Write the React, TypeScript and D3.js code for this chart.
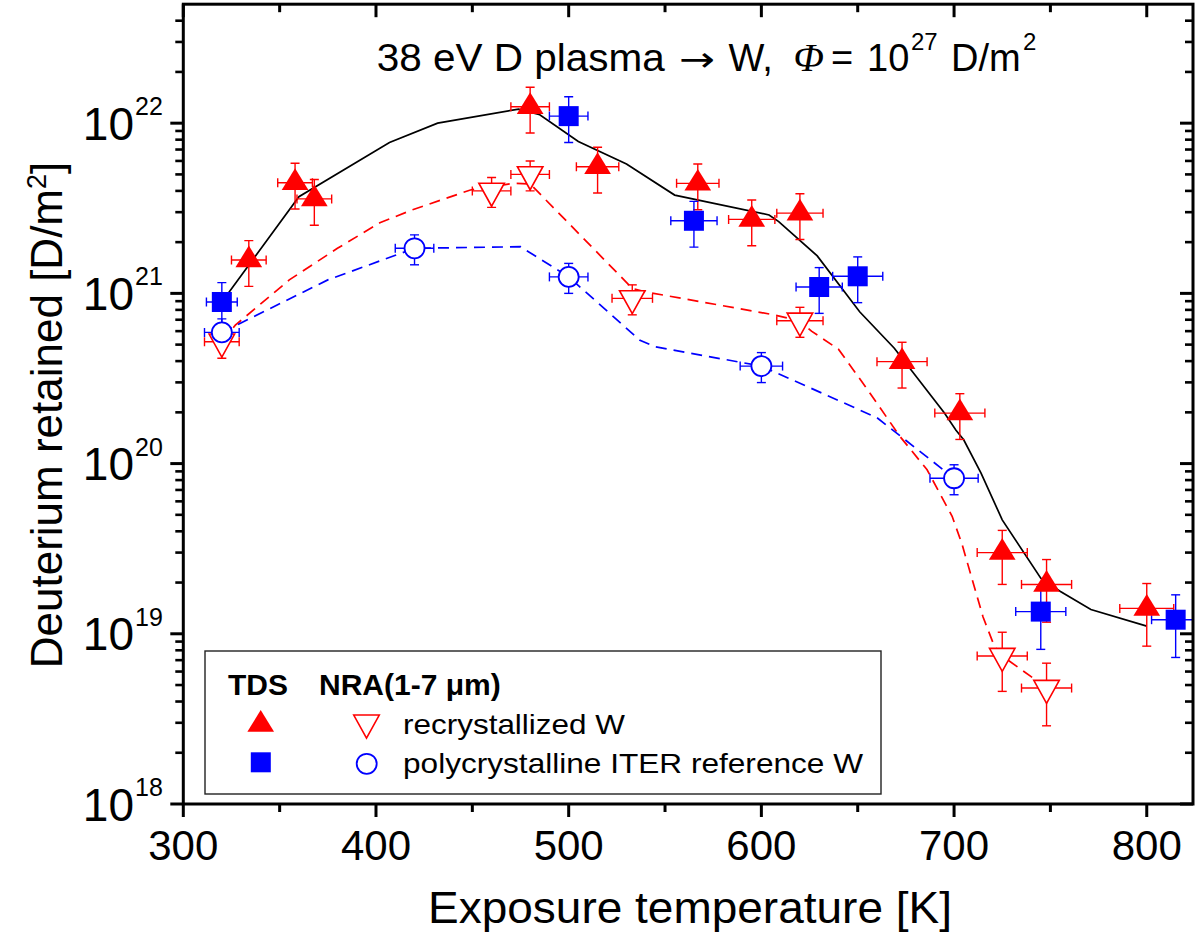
import React from 'react';
import * as d3 from 'd3';

const W = 1197;
const H = 935;
const FONT = "Arial, 'Liberation Sans', Helvetica, sans-serif";
const RED = '#ff0000';
const BLUE = '#0000ff';

// ---- TDS, recrystallized W (filled red triangles) ----
const tdsRecT = [334, 358, 368, 480, 515, 567, 595, 620, 673, 703, 725, 748, 800];
const tdsRecD = [1.57e21, 4.47e21, 3.59e21, 1.25e22, 5.55e21, 4.43e21, 2.72e21, 2.96e21, 3.97e20, 1.98e20, 3.0e19, 1.95e19, 1.41e19];
const tdsRecTErr = [9, 9, 9, 10, 11, 11, 12, 12, 13, 13, 13, 13, 14];
const tdsRecDErr = [0.3, 0.3, 0.3, 0.3, 0.3, 0.3, 0.3, 0.3, 0.3, 0.3, 0.35, 0.4, 0.4];

// ---- TDS, polycrystalline ITER reference W (filled blue squares) ----
const tdsPolyT = [320, 500, 565, 630, 650, 745, 815];
const tdsPolyD = [8.9e20, 1.1e22, 2.67e21, 1.09e21, 1.26e21, 1.35e19, 1.21e19];
const tdsPolyTErr = [8, 10, 12, 12, 13, 13, 12.5];
const tdsPolyDErr = [0.3, 0.3, 0.3, 0.3, 0.3, 0.4, 0.4];

// ---- NRA, recrystallized W (open red down triangles) ----
const nraRecT = [320, 460, 480, 533, 620, 725, 748];
const nraRecD = [5.2e20, 4.0e21, 5.0e21, 9.35e20, 6.9e20, 7.4e18, 4.8e18];
const nraRecTErr = [9, 10, 10, 10.5, 12, 13, 13];
const nraRecDErr = [0.2, 0.2, 0.2, 0.2, 0.2, 0.38, 0.4];

// ---- NRA, polycrystalline ITER reference W (open blue circles) ----
const nraPolyT = [320, 420, 500, 600, 700];
const nraPolyD = [5.9e20, 1.84e21, 1.25e21, 3.74e20, 8.2e19];
const nraPolyTErr = [9, 10, 10, 11, 12.5];
const nraPolyDErr = [0.2, 0.2, 0.2, 0.2, 0.2];

// ---- guide lines ----
const tdsFitT = [320, 360, 407, 432, 474, 485, 505, 530, 555, 604, 609, 629, 651, 669, 695, 701, 705, 714, 725, 745, 755, 771, 800];
const tdsFitD = [8.9e20, 3.7e21, 7.7e21, 1.0e22, 1.21e22, 1.12e22, 7.8e21, 5.75e21, 3.78e21, 2.89e21, 2.64e21, 1.66e21, 7.8e20, 4.76e20, 1.98e20, 1.57e20, 1.38e20, 8.8e19, 4.67e19, 2.12e19, 1.78e19, 1.39e19, 1.11e19];

const nraRecFitT = [320, 327, 355, 380, 402, 419, 449, 471, 480, 533, 540, 606, 620, 626, 640, 654, 672, 686, 699, 704, 715, 721, 725, 740, 748];
const nraRecFitD = [5.2e20, 6.5e20, 1.2e21, 1.84e21, 2.6e21, 3.1e21, 4.05e21, 4.43e21, 4.4e21, 1.07e21, 1.02e21, 7.5e20, 6.9e20, 6.0e20, 4.7e20, 2.83e20, 1.44e20, 9.2e19, 4.9e19, 3.4e19, 1.26e19, 8.4e18, 7.4e18, 5.6e18, 4.8e18];

const nraPolyFitT = [320, 375, 420, 475, 500, 537, 545, 600, 660, 700];
const nraPolyFitD = [5.9e20, 1.2e21, 1.84e21, 1.88e21, 1.25e21, 5.3e20, 4.85e20, 3.74e20, 1.86e20, 8.2e19];

// ---- ticks ----
const xTicksMajor = [300, 400, 500, 600, 700, 800];
const xTicksMinor = [350, 450, 550, 650, 750];
const yTickExps = [18, 19, 20, 21, 22];
const yMinorMantissas = [2, 3, 4, 5, 6, 7, 8, 9];

const TRI_W = 26.7;
const TRI_H = 21.7;
const SQ = 20;
const CIRC_R = 10;

function triUp(cx: number, cy: number) {
  return `M${cx},${cy - (2 * TRI_H) / 3}L${cx + TRI_W / 2},${cy + TRI_H / 3}L${cx - TRI_W / 2},${cy + TRI_H / 3}Z`;
}
function triDown(cx: number, cy: number) {
  const w = 25.5, h = 23;
  return `M${cx},${cy + (2 * h) / 3}L${cx + w / 2},${cy - h / 3}L${cx - w / 2},${cy - h / 3}Z`;
}

export default function App() {
  const x = d3.scaleLinear().domain([300, 824]).range([183.3, 1193]);
  const y = d3.scaleLog().domain([1e18, 5e22]).range([804, 4.2]);
  const [xL, xR] = x.range();
  const [yB, yT] = y.range();

  const yMinor: number[] = [];
  yTickExps.forEach((e) => {
    yMinorMantissas.forEach((m) => {
      const v = m * Math.pow(10, e);
      if (v < 5e22) yMinor.push(v);
    });
  });

  const mkPath = (ts: number[], ds: number[]) =>
    d3
      .line<number>()
      .x((t) => x(t))
      .y((_, i) => y(ds[i]))(ts) || '';

  const errBars = (
    ts: number[],
    ds: number[],
    te: number[],
    de: number[],
    color: string,
    key: string
  ) =>
    ts.map((t, i) => {
      const cx = x(t);
      const cy = y(ds[i]);
      const xl = x(t - te[i]);
      const xr = x(t + te[i]);
      const yt = y(ds[i] * (1 + de[i]));
      const yb = y(ds[i] * (1 - de[i]));
      const c = 4.5;
      return (
        <g key={key + i} stroke={color} strokeWidth={1.4} fill="none">
          <line x1={xl} y1={cy} x2={xr} y2={cy} />
          <line x1={xl} y1={cy - c} x2={xl} y2={cy + c} />
          <line x1={xr} y1={cy - c} x2={xr} y2={cy + c} />
          <line x1={cx} y1={yt} x2={cx} y2={yb} />
          <line x1={cx - c} y1={yt} x2={cx + c} y2={yt} />
          <line x1={cx - c} y1={yb} x2={cx + c} y2={yb} />
        </g>
      );
    });

  const tickW = 3;

  return (
    <svg
      width={W}
      height={H}
      viewBox={`0 0 ${W} ${H}`}
      style={{ position: 'absolute', left: 0, top: 0, background: '#fff' }}
      fontFamily={FONT}
    >
      <defs>
        <clipPath id="plotClip">
          <rect x={xL} y={yT} width={xR - xL} height={yB - yT} />
        </clipPath>
      </defs>
      <rect x={0} y={0} width={W} height={H} fill="#fff" />

      <g clipPath="url(#plotClip)">
        {/* guide lines */}
        <path d={mkPath(tdsFitT, tdsFitD)} fill="none" stroke="#000" strokeWidth={1.7} />
        <path d={mkPath(nraRecFitT, nraRecFitD)} fill="none" stroke={RED} strokeWidth={1.7} strokeDasharray="11,7" />
        <path d={mkPath(nraPolyFitT, nraPolyFitD)} fill="none" stroke={BLUE} strokeWidth={1.7} strokeDasharray="11,7" />

        {/* error bars */}
        {errBars(tdsRecT, tdsRecD, tdsRecTErr, tdsRecDErr, RED, 'etr')}
        {errBars(tdsPolyT, tdsPolyD, tdsPolyTErr, tdsPolyDErr, BLUE, 'etp')}
        {errBars(nraRecT, nraRecD, nraRecTErr, nraRecDErr, RED, 'enr')}
        {errBars(nraPolyT, nraPolyD, nraPolyTErr, nraPolyDErr, BLUE, 'enp')}

        {/* markers */}
        {nraRecT.map((t, i) => (
          <path key={'mnr' + i} d={triDown(x(t), y(nraRecD[i]))} fill="#fff" stroke={RED} strokeWidth={1.6} />
        ))}
        {nraPolyT.map((t, i) => (
          <circle key={'mnp' + i} cx={x(t)} cy={y(nraPolyD[i])} r={CIRC_R} fill="#fff" stroke={BLUE} strokeWidth={1.8} />
        ))}
        {tdsPolyT.map((t, i) => (
          <rect key={'mtp' + i} x={x(t) - SQ / 2} y={y(tdsPolyD[i]) - SQ / 2} width={SQ} height={SQ} fill={BLUE} />
        ))}
        {tdsRecT.map((t, i) => (
          <path key={'mtr' + i} d={triUp(x(t), y(tdsRecD[i]))} fill={RED} />
        ))}
      </g>

      {/* legend */}
      <rect x={205} y={651} width={676} height={143} fill="#fff" stroke="#222" strokeWidth={1.4} />
      <text x={228} y={695} fontSize={30} fontWeight="bold" fill="#000">TDS</text>
      <text x={319} y={695} fontSize={30} fontWeight="bold" fill="#000">NRA(1-7 μm)</text>
      <path d={triUp(260.7, 724.5)} fill={RED} />
      <path d={triDown(366.5, 722.7)} fill="#fff" stroke={RED} strokeWidth={1.6} />
      <text x={403} y={734.3} fontSize={28} textLength={222} lengthAdjust="spacingAndGlyphs" fill="#000">recrystallized W</text>
      <rect x={260.8 - SQ / 2} y={762.3 - SQ / 2} width={SQ} height={SQ} fill={BLUE} />
      <circle cx={366.7} cy={763.8} r={CIRC_R} fill="#fff" stroke={BLUE} strokeWidth={1.8} />
      <text x={403} y={773.3} fontSize={28} textLength={460} lengthAdjust="spacingAndGlyphs" fill="#000">polycrystalline ITER reference W</text>

      {/* frame */}
      <rect x={xL} y={yT} width={xR - xL} height={yB - yT} fill="none" stroke="#000" strokeWidth={3} />

      {/* x ticks bottom (outward) and top (inward) */}
      {xTicksMajor.map((t) => (
        <g key={'xM' + t} stroke="#000" strokeWidth={tickW}>
          <line x1={x(t)} y1={yB} x2={x(t)} y2={yB + 13} />
          <line x1={x(t)} y1={yT} x2={x(t)} y2={yT + 13} />
        </g>
      ))}
      {xTicksMinor.map((t) => (
        <g key={'xm' + t} stroke="#000" strokeWidth={tickW}>
          <line x1={x(t)} y1={yB} x2={x(t)} y2={yB + 8} />
          <line x1={x(t)} y1={yT} x2={x(t)} y2={yT + 8} />
        </g>
      ))}
      {xTicksMajor.map((t) => (
        <text key={'xl' + t} x={x(t)} y={860} fontSize={42} textAnchor="middle" fill="#000">
          {t}
        </text>
      ))}

      {/* y ticks left (outward) and right (inward) */}
      {yTickExps.map((e) => {
        const v = Math.pow(10, e);
        return (
          <g key={'yM' + e} stroke="#000" strokeWidth={tickW}>
            <line x1={xL - 13} y1={y(v)} x2={xL} y2={y(v)} />
            <line x1={xR - 13} y1={y(v)} x2={xR} y2={y(v)} />
          </g>
        );
      })}
      {yMinor.map((v, i) => (
        <g key={'ym' + i} stroke="#000" strokeWidth={2.6}>
          <line x1={xL - 8} y1={y(v)} x2={xL} y2={y(v)} />
          <line x1={xR - 8} y1={y(v)} x2={xR} y2={y(v)} />
        </g>
      ))}
      {yTickExps.map((e) => {
        const yy = y(Math.pow(10, e));
        return (
          <g key={'yl' + e} fill="#000">
            <text x={134} y={yy + 16.5} fontSize={46} textAnchor="end">10</text>
            <text x={135} y={yy - 8} fontSize={25}>{e}</text>
          </g>
        );
      })}

      {/* axis titles */}
      <text x={428} y={923} fontSize={44} textLength={524} lengthAdjust="spacingAndGlyphs" fill="#000">
        Exposure temperature [K]
      </text>
      <g transform="translate(62,415) rotate(-90)">
        <text x={0} y={0} fontSize={44} textAnchor="middle" fill="#000">
          Deuterium retained [D/m<tspan dy={-16} fontSize={27}>2</tspan><tspan dy={16}>]</tspan>
        </text>
      </g>

      {/* title */}
      <g fill="#000" fontSize={38}>
        <text x={376.7} y={71} textLength={288} lengthAdjust="spacingAndGlyphs">38 eV D plasma</text>
        <text x={679} y={71} fontFamily="'DejaVu Sans', sans-serif" fontSize={34} textLength={36} lengthAdjust="spacingAndGlyphs">→</text>
        <text x={728.5} y={71}>W,</text>
        <text x={793.6} y={71} fontFamily="'Liberation Serif', 'Times New Roman', serif" fontStyle="italic" fontSize={40}>Φ</text>
        <text x={831} y={71}>=</text>
        <text x={867} y={71}>10</text>
        <text x={911} y={50} fontSize={24}>27</text>
        <text x={951} y={71}>D/m</text>
        <text x={1023} y={50} fontSize={24}>2</text>
      </g>
    </svg>
  );
}
